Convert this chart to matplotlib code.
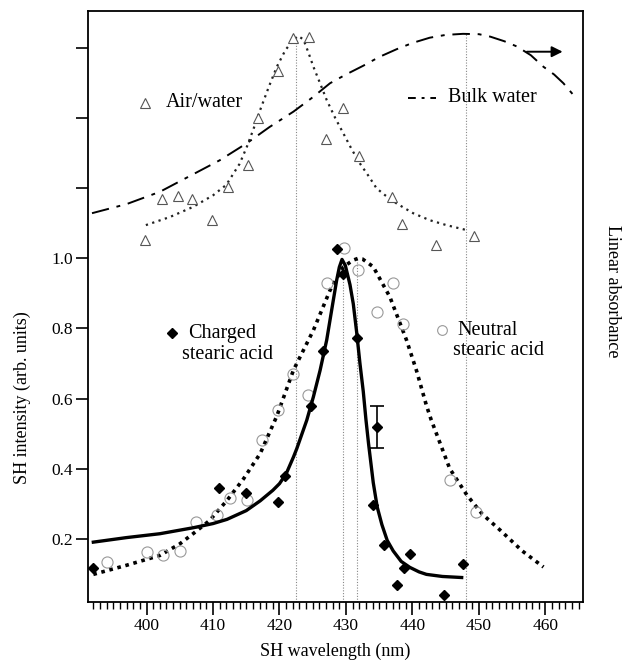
import numpy as np
import matplotlib.pyplot as plt
from matplotlib.ticker import MultipleLocator, FixedLocator, FuncFormatter

plt.rcParams['font.family'] = ['Liberation Serif', 'DejaVu Serif']

# air/water interface (triangles) and its fit
air_x = [399.8, 402.3, 404.8, 406.8, 409.8, 412.2, 415.2, 416.7, 419.7, 422.1,
         424.5, 427.0, 429.5, 432.0, 436.9, 438.4, 443.5, 449.3]
air_y = [1.052, 1.169, 1.179, 1.169, 1.111, 1.205, 1.267, 1.40, 1.535, 1.629,
         1.631, 1.34, 1.429, 1.292, 1.176, 1.098, 1.038, 1.064]
air_fit_x = [399.9, 403.5, 407.0, 410.0, 412.0, 414.0, 415.1, 416.1, 417.1, 418.4,
             419.6, 420.9, 422.1, 422.8, 423.6, 424.4, 425.1, 426.1, 427.1, 428.4,
             429.6, 430.9, 432.1, 433.4, 434.6, 435.9, 437.6, 440.1, 442.6, 445.1, 448.1]
air_fit_y = [1.095, 1.118, 1.147, 1.180, 1.210, 1.270, 1.319, 1.370, 1.424, 1.490,
             1.547, 1.595, 1.624, 1.635, 1.625, 1.585, 1.547, 1.500, 1.452, 1.400,
             1.357, 1.310, 1.271, 1.235, 1.200, 1.180, 1.157, 1.129, 1.109, 1.095, 1.081]

# bulk water linear absorbance
bulk_x = [391.8, 397.0, 402.0, 407.0, 411.0, 415.1, 418.5, 422.1, 425.0, 427.6,
          430.0, 432.6, 435.0, 437.6, 440.0, 442.6, 445.0, 447.6, 450.0, 451.7,
          453.8, 455.7, 457.8, 459.7, 461.3, 462.7, 464.4]
bulk_y = [1.129, 1.155, 1.190, 1.240, 1.280, 1.329, 1.375, 1.419, 1.460, 1.500,
          1.525, 1.550, 1.575, 1.597, 1.615, 1.630, 1.638, 1.641, 1.640, 1.633,
          1.620, 1.605, 1.580, 1.547, 1.525, 1.500, 1.462]

# charged stearic acid
ch_x = [392.0, 410.9, 414.9, 419.8, 420.9, 424.8, 426.6, 428.6, 429.6, 431.6,
        434.1, 435.7, 437.7, 438.8, 439.6, 444.7, 447.6]
ch_y = [0.117, 0.345, 0.330, 0.305, 0.378, 0.579, 0.735, 1.026, 0.955, 0.773,
        0.295, 0.181, 0.069, 0.116, 0.157, 0.040, 0.127]
err_x, err_y, err_size = 434.7, 0.519, 0.061
ch_fit_x = [392.0, 397.0, 402.0, 407.0, 410.0, 412.1, 415.0, 417.1, 419.0, 420.0,
            421.0, 422.1, 422.6, 424.1, 425.1, 426.1, 427.1, 428.0, 428.6, 429.0,
            429.4, 429.9, 430.6, 431.1, 431.6, 432.1, 432.6, 433.0, 433.4, 434.1,
            434.7, 435.4, 436.2, 437.1, 438.3, 439.6, 441.0, 442.1, 444.5, 447.4]
ch_fit_y = [0.190, 0.203, 0.214, 0.231, 0.243, 0.255, 0.280, 0.308, 0.338, 0.357,
            0.385, 0.433, 0.457, 0.538, 0.605, 0.680, 0.767, 0.870, 0.938, 0.975,
            0.997, 0.980, 0.925, 0.870, 0.790, 0.700, 0.620, 0.540, 0.470, 0.360,
            0.290, 0.240, 0.195, 0.165, 0.135, 0.118, 0.105, 0.098, 0.092, 0.089]

# neutral stearic acid
ne_x = [394.1, 400.0, 402.5, 405.1, 407.5, 410.6, 412.5, 415.1, 417.3, 419.8,
        422.1, 424.3, 427.1, 429.7, 431.8, 434.6, 437.1, 438.6, 445.6, 449.5]
ne_y = [0.133, 0.162, 0.154, 0.165, 0.247, 0.267, 0.317, 0.311, 0.481, 0.567,
        0.671, 0.609, 0.929, 1.029, 0.967, 0.847, 0.929, 0.812, 0.367, 0.276]
ne_fit_x = [392.0, 397.0, 402.0, 405.0, 407.0, 409.5, 412.1, 414.6, 417.1, 419.6,
            422.1, 425.1, 427.6, 429.6, 431.1, 431.8, 432.5, 434.1, 436.6, 439.1,
            440.6, 442.1, 442.8, 444.6, 445.6, 448.2, 450.5, 453.2, 456.5, 459.7]
ne_fit_y = [0.098, 0.124, 0.152, 0.185, 0.214, 0.252, 0.309, 0.371, 0.443, 0.550,
            0.681, 0.795, 0.909, 0.976, 0.995, 1.000, 0.998, 0.976, 0.890, 0.767,
            0.680, 0.580, 0.540, 0.450, 0.400, 0.324, 0.270, 0.224, 0.165, 0.119]

# peak markers
peak_x = [422.5, 429.6, 431.7, 448.1]
peak_top = [1.635, 0.997, 1.0, 1.641]

fig = plt.figure(figsize=(6.26, 6.62), dpi=100)
ax = fig.add_axes([0.1406, 0.0911, 0.7902, 0.8927])

for px, pt in zip(peak_x, peak_top):
    ax.plot([px, px], [0.02, pt], color='#888888', lw=0.8, ls=(0, (1, 1.5)))

ax.plot(bulk_x, bulk_y, color='black', lw=1.4, ls=(0, (9, 4, 2, 4)))
ax.plot(air_fit_x, air_fit_y, color='#222222', lw=1.6, ls=(0, (1, 2)))
ax.plot(air_x, air_y, ls='none', marker='^', ms=7, mfc='white', mec='#555555', mew=0.8)

ax.plot(ne_fit_x, ne_fit_y, color='black', lw=2.6, ls=(0, (1, 1.3)))
ax.plot(ne_x, ne_y, ls='none', marker='o', ms=8, mfc='none', mec='#999999', mew=0.8)

ax.plot(ch_fit_x, ch_fit_y, color='black', lw=2.4)
ax.plot(ch_x, ch_y, ls='none', marker='D', ms=5.5, color='black')
ax.errorbar([err_x], [err_y], yerr=[err_size], fmt='D', ms=5.5, color='black',
            capsize=5, elinewidth=1.2, capthick=1.2)

# labels inside the plot
ax.plot([399.8], [1.444], ls='none', marker='^', ms=7, mfc='white', mec='#555555', mew=0.8)
ax.text(402.9, 1.444, 'Air/water', fontsize=14.5, va='center', ha='left')
ax.plot([439.3, 443.6], [1.458, 1.458], color='black', lw=1.4, ls=(0, (4, 3, 1.5, 3)))
ax.text(445.3, 1.458, 'Bulk water', fontsize=14.5, va='center', ha='left')
ax.plot([403.8], [0.786], ls='none', marker='D', ms=5.5, color='black')
ax.text(411.4, 0.786, 'Charged', fontsize=14.5, va='center', ha='center')
ax.text(412.2, 0.726, 'stearic acid', fontsize=14.5, va='center', ha='center')
ax.plot([444.4], [0.795], ls='none', marker='o', ms=7, mfc='none', mec='#999999', mew=0.8)
ax.text(451.3, 0.795, 'Neutral', fontsize=14.5, va='center', ha='center')
ax.text(452.9, 0.737, 'stearic acid', fontsize=14.5, va='center', ha='center')
ax.annotate('', xy=(463.0, 1.59), xytext=(456.8, 1.59),
            arrowprops=dict(arrowstyle='-|>', color='black', lw=1.4, mutation_scale=16))

ax.set_xlim(391.2, 465.6)
ax.set_ylim(0.02, 1.707)
ax.xaxis.set_major_locator(MultipleLocator(10))
ax.xaxis.set_minor_locator(FixedLocator(np.arange(392, 466, 1)))
ax.yaxis.set_major_locator(FixedLocator([0.2, 0.4, 0.6, 0.8, 1.0, 1.2, 1.4, 1.6]))
ax.yaxis.set_major_formatter(FuncFormatter(lambda v, p: f'{v:.1f}' if v < 1.05 else ''))
ax.tick_params(axis='x', which='major', direction='out', length=9, width=1.2, labelsize=12.5, pad=3)
ax.tick_params(axis='x', which='minor', direction='out', length=5, width=1.0)
ax.tick_params(axis='y', which='major', direction='out', length=9, width=1.2, labelsize=12.5, pad=2)
for s in ax.spines.values():
    s.set_linewidth(1.3)

ax.set_xlabel('SH wavelength (nm)', fontsize=13)
ax.xaxis.set_label_coords(0.5, -0.07)
ax.set_ylabel('SH intensity (arb. units)', fontsize=13)
ax.yaxis.set_label_coords(-0.115, 0.345)
fig.text(0.978, 0.56, 'Linear absorbance', rotation=-90, fontsize=13,
         ha='center', va='center')

fig.savefig('out.png', dpi=100)
